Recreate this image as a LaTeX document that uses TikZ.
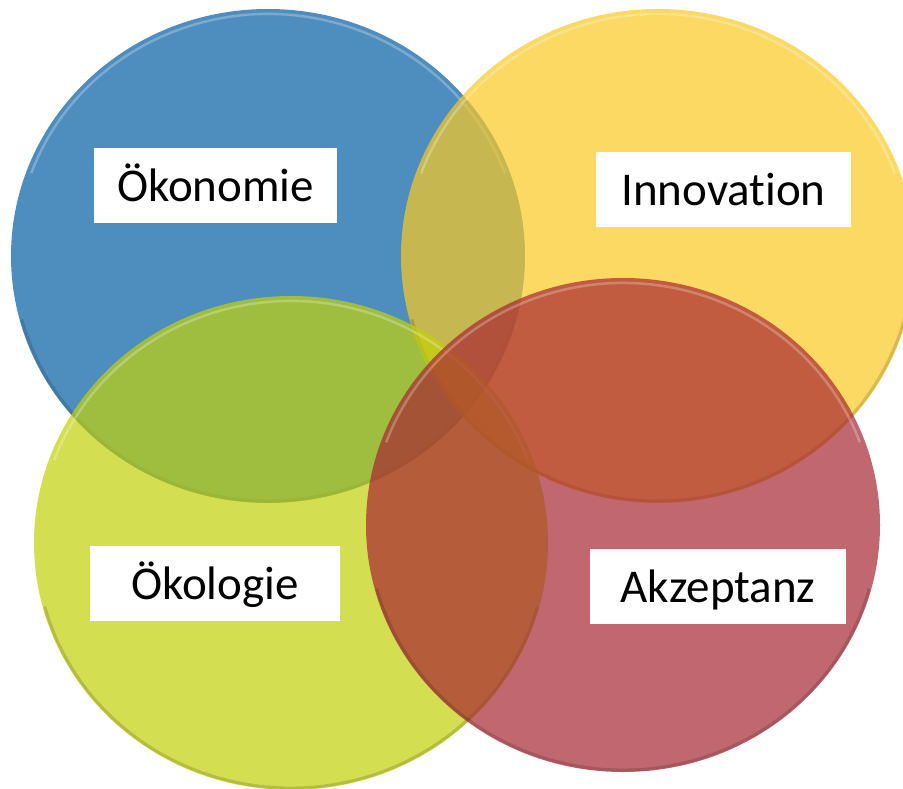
\documentclass[tikz,border=0pt]{standalone}
\usepackage{fontspec}
\setmainfont{Carlito}[Ligatures=NoCommon]
\usetikzlibrary{shapes.geometric}
\definecolor{oekoblau}{RGB}{4,95,165}
\definecolor{innogelb}{RGB}{251,201,34}
\definecolor{oekogruen}{RGB}{194,209,8}
\definecolor{akzrot}{RGB}{168,39,51}
\tikzset{%
  ring/.style = {ellipse,draw=none,inner sep=0pt,fill opacity=0.7,
        minimum width=514pt,minimum height=494pt},
  glanz/.style = {white,line width=2.5pt,draw opacity=0.25},
  schatten/.style = {black,line width=3pt,draw opacity=0.15},
  lbl/.style = {rectangle,fill=white,inner sep=0pt,minimum height=75pt,
        text height=40pt,text depth=8pt,font=\fontsize{47}{56}\selectfont}
}
\begin{document}
\begin{tikzpicture}[x=1pt,y=-1pt]
    \useasboundingbox[fill=white] (0,0) rectangle (903,789);
    % Kreise mit Glanz oben und Schatten unten
    \foreach \n/\px/\py/\f in {oeko/268/256/oekoblau,inno/658/256/innogelb,
            oekol/291/543/oekogruen,akz/623/525/akzrot}{
        \node[ring,fill=\f] (\n) at (\px,\py) {};
        \draw[glanz] ([shift={(200:252 and 242)}]\n.center)
            arc[start angle=200,end angle=340,x radius=252,y radius=242];
        \draw[schatten] ([shift={(15:255 and 245)}]\n.center)
            arc[start angle=15,end angle=165,x radius=255,y radius=245];
    }
    % Beschriftungen
    \node[lbl,minimum width=243pt] (toeko) at (215.5,185.5) {Ökonomie};
    \node[lbl,minimum width=255pt] (tinno) at (723.5,189.5) {Innovation};
    \node[lbl,minimum width=250pt] (toekol) at (215,583.5) {Ökologie};
    \node[lbl,minimum width=256pt] (takz) at (718,586.5) {Akzeptanz};
\end{tikzpicture}
\end{document}
